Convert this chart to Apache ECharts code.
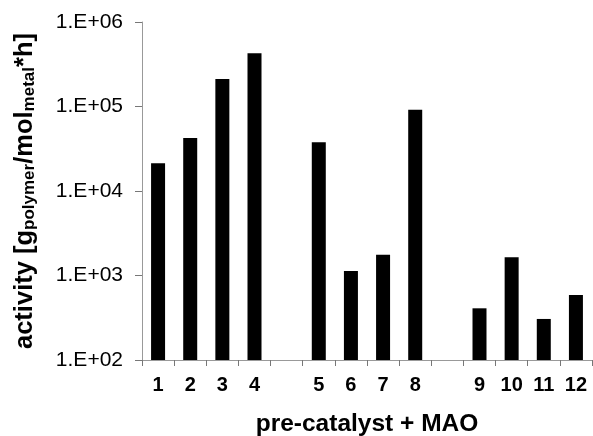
<!DOCTYPE html>
<html>
<head>
<meta charset="utf-8">
<script src="https://cdn.jsdelivr.net/npm/echarts@6/dist/echarts.min.js"></script>
<style>
html,body{margin:0;padding:0;background:#fff;}
#chart{width:593px;height:436px;}
</style>
</head>
<body>
<div id="chart"></div>
<script>
// Categories (blank slots separate the three groups)
var categories = ['1','2','3','4',' ','5','6','7','8','  ','9','10','11','12'];
// Activity values [g_polymer / mol_metal * h]
var activity = [21300, 42400, 212000, 426000, null, 37700, 1130, 1760, 91700, null, 409, 1640, 306, 588];
// Y tick labels by decade exponent
var yTickLabels = {2:'1.E+02', 3:'1.E+03', 4:'1.E+04', 5:'1.E+05', 6:'1.E+06'};

var FONT = "'Liberation Sans', Arial, sans-serif";
var chart = echarts.init(document.getElementById('chart'), null, {renderer:'canvas'});
chart.setOption({
  animation: false,
  backgroundColor: '#ffffff',
  grid: {left: 142, right: 1, top: 22, bottom: 76, containLabel: false, outerBoundsMode: 'none'},
  xAxis: {
    type: 'category',
    data: categories,
    boundaryGap: true,
    axisLine: {show: true, lineStyle: {color: '#999999', width: 1}},
    axisTick: {show: true, interval: 0, alignWithLabel: false, length: 6, lineStyle: {color: '#777777'}},
    axisLabel: {interval: 0, margin: 15, color: '#000', fontFamily: FONT, fontWeight: 'bold', fontSize: 20},
    name: 'pre-catalyst + MAO',
    nameLocation: 'middle',
    nameGap: 52,
    nameTextStyle: {color: '#000', fontFamily: FONT, fontWeight: 'bold', fontSize: 24.5}
  },
  yAxis: {
    type: 'log',
    logBase: 10,
    min: 100,
    max: 1000000,
    axisLine: {show: true, lineStyle: {color: '#999999', width: 1}},
    axisTick: {show: true, length: 7, lineStyle: {color: '#777777'}},
    splitLine: {show: false},
    minorTick: {show: false},
    axisLabel: {
      margin: 19, color: '#000', fontFamily: FONT, fontSize: 21,
      formatter: function (v) { return yTickLabels[Math.round(Math.log10(v))] || ''; }
    },
    name: '{m|activity [g}{s|polymer}{m|/mol}{s|metal}{m|*h]}',
    nameLocation: 'middle',
    nameRotate: 90,
    nameGap: 104,
    nameTextStyle: {
      color: '#000',
      rich: {
        m: {fontFamily: FONT, fontWeight: 'bold', fontSize: 25.5, color: '#000'},
        s: {fontFamily: FONT, fontWeight: 'bold', fontSize: 17, color: '#000', padding: [10, 0, 0, 0]}
      }
    }
  },
  series: [{
    type: 'bar',
    data: activity,
    barWidth: 14,
    itemStyle: {color: '#000000'}
  }]
});
</script>
</body>
</html>
